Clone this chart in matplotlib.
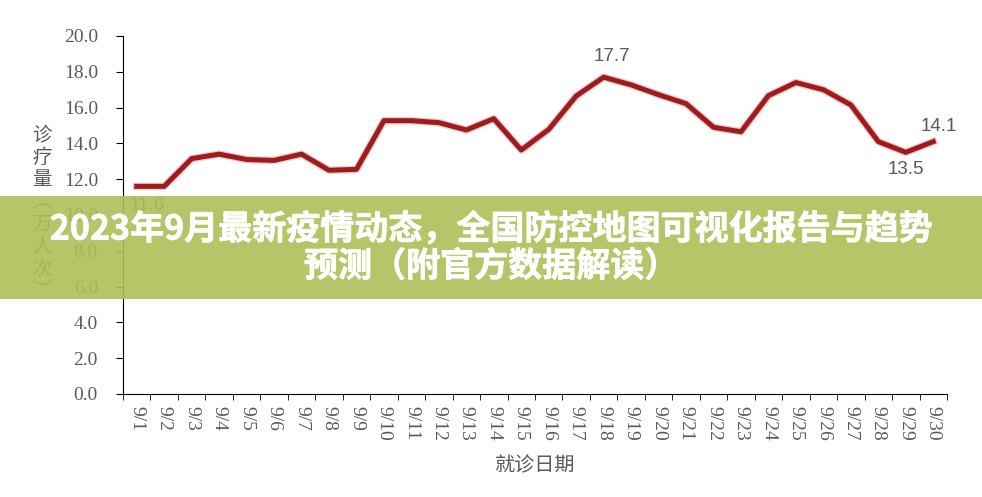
import numpy as np
import matplotlib
matplotlib.use("Agg")
import matplotlib.pyplot as plt
import matplotlib.patheffects as pe
from matplotlib.patches import Rectangle

# visits per day, 10k people
dates = ["9/%d" % d for d in range(1, 31)]
visits = [11.6, 11.6, 13.15, 13.4, 13.1, 13.05, 13.4, 12.5, 12.55, 15.27,
          15.27, 15.16, 14.75, 15.38, 13.63, 14.78, 16.65, 17.7, 17.27, 16.72,
          16.22, 14.9, 14.65, 16.67, 17.4, 17.0, 16.15, 14.1, 13.5, 14.1]
yticks = np.arange(0, 20.1, 2.0)
marked = {0: (10, -19), 17: (8, 21), 28: (0, -17), 29: (6, 15)}

title1 = "2023年9月最新疫情动态，全国防控地图可视化报告与趋势"
title2 = "预测（附官方数据解读）"
ylab = "诊疗量︵万人次︶"
xlab = "就诊日期"

grey = "#595959"
serif = ["Liberation Serif", "DejaVu Serif"]
cjk = ["Noto Sans CJK SC", "DejaVu Sans"]

fig = plt.figure(figsize=(9.82, 4.97), dpi=100)
ax = fig.add_axes([123/982, 1-394/497, (947-123)/982, (394-36)/497])

x = np.arange(len(dates))
ax.plot(x, visits, color="#9c1c1f", lw=3.6, solid_joinstyle="round",
        path_effects=[pe.Stroke(linewidth=5.5, foreground="#f3c9c9"), pe.Normal()])

for i, (dx, dy) in marked.items():
    ax.annotate("%.1f" % visits[i], (x[i], visits[i]), xytext=(dx*0.72, dy*0.72),
                textcoords="offset points", ha="center", va="center",
                fontsize=13.5, color=grey, family=["Liberation Sans"])

ax.set_xlim(-0.5, 29.5)
ax.set_ylim(0, 20)
ax.set_yticks(yticks)
ax.set_yticklabels(["%.1f" % v for v in yticks], family=serif, fontsize=14, color=grey)
ax.set_xticks(x)
ax.set_xticklabels(dates, rotation=270, family=serif, fontsize=14, color=grey, va="top")
ax.set_xticks(np.arange(-0.5, 30, 1), minor=True)
ax.tick_params(axis="x", which="major", length=0, pad=9)
ax.tick_params(axis="x", which="minor", length=4, direction="out")
ax.tick_params(axis="y", length=5, pad=13)
for s in ["top", "right"]:
    ax.spines[s].set_visible(False)

ax.set_xlabel(xlab, family=cjk, fontsize=14.5, color=grey, fontweight="light", labelpad=10)
fig.text(42/982, 1-213/497, "\n".join(ylab), family=cjk, fontsize=14, color=grey,
         fontweight="light", ha="center", va="center", linespacing=1.08)

# banner over the chart
fig.patches.append(Rectangle((0, 1-299/497), 1, 103/497, transform=fig.transFigure,
                             facecolor="#afbf59", alpha=0.9, edgecolor="none", zorder=5))
thick = [pe.withStroke(linewidth=0.5, foreground="white")]
fig.text(0.5, 1-229/497, title1, family=cjk, fontsize=24.5, fontweight="bold",
         color="white", ha="center", va="center", zorder=6, path_effects=thick)
fig.text(0.5, 1-266/497, title2, family=cjk, fontsize=24.5, fontweight="bold",
         color="white", ha="center", va="center", zorder=6, path_effects=thick)

fig.savefig("out.png", dpi=100)
